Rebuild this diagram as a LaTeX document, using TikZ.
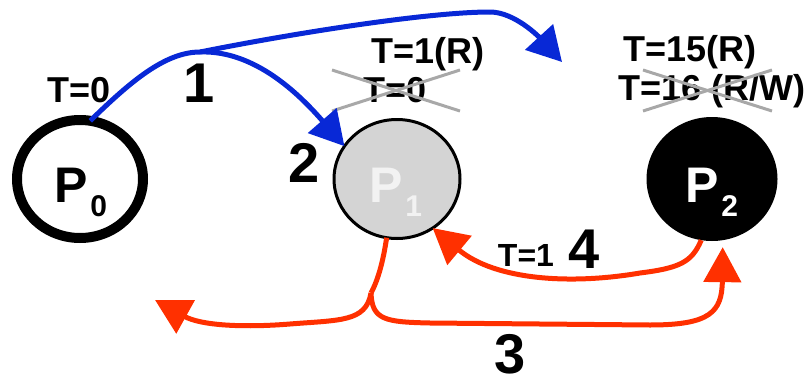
\documentclass[tikz,border=0pt]{standalone}
\usepackage{fontspec}
\setmainfont{Liberation Sans}
\usetikzlibrary{shapes.geometric,arrows.meta}
\definecolor{ablue}{RGB}{8,40,214}
\definecolor{ared}{RGB}{255,48,0}
\definecolor{xgray}{RGB}{168,168,168}
\definecolor{pgray}{RGB}{212,212,212}
\definecolor{plight}{RGB}{242,242,242}
\tikzset{
  proc/.style={ellipse, inner sep=0pt, outer sep=0pt},
  ptext/.style={inner sep=0pt, font=\fontsize{50}{50}\selectfont\bfseries},
  tlabel/.style={inner sep=0pt, font=\fontsize{36}{36}\selectfont\bfseries},
  numlabel/.style={inner sep=0pt, font=\fontsize{56}{56}\selectfont\bfseries},
  bluearrow/.style={draw=ablue, line width=5pt, -{Triangle[length=34pt,width=37pt]}, color=ablue},
  redarrow/.style={draw=ared, line width=5pt, -{Triangle[length=35pt,width=37pt]}, color=ared},
  redline/.style={draw=ared, line width=5pt},
  bluelinestyle/.style={draw=ablue, line width=5pt},
  cross/.style={draw=xgray, line width=3pt}
}
\newcommand{\psub}[2]{P\hspace{2pt}\raisebox{-14pt}{\fontsize{30}{30}\selectfont #2}}
\begin{document}
\begin{tikzpicture}[x=1pt,y=-1pt]
\useasboundingbox (0,0) rectangle (811,383);
% processes
\node[proc, draw=black, line width=10pt, minimum width=126pt, minimum height=118pt] (P0) at (80,179) {};
\node[proc, draw=black, fill=pgray, line width=3pt, minimum width=126pt, minimum height=119pt] (P1) at (397,179) {};
\node[proc, fill=black, minimum width=131pt, minimum height=124pt] (P2) at (712,179) {};
\node[ptext, text=black] (t0) at (81,192) {\psub{P}{0}};
\node[ptext, text=plight] (t1) at (396,192) {\psub{P}{1}};
\node[ptext, text=white] (t2) at (712,192) {\psub{P}{2}};
% labels
\node[tlabel] (lT0) at (79,90) {T=0};
\node[tlabel] (lT1R) at (428,54) {T=1(R)};
\node[tlabel] (lT0s) at (395,90) {T=0};
\node[tlabel] (lT15) at (690,52) {T=15(R)};
\node[tlabel] (lT16) at (712,91) {T=16 (R/W)};
\node[numlabel] (n1) at (199,83) {1};
\node[numlabel] (n2) at (304,163) {2};
\node[numlabel] (n3) at (510,354) {3};
\node[numlabel] (n4) at (584,249) {4};
\node[inner sep=0pt, font=\fontsize{32}{32}\selectfont\bfseries] (lT1) at (526,255) {T=1};
% crosses
\draw[cross] (332,70) -- (460,111);
\draw[cross] (332,111) -- (460,70);
\draw[cross] (643,70) -- (772,111);
\draw[cross] (643,111) -- (772,70);
% blue arrows
\coordinate (J) at (200,52);
\coordinate (B2) at (562,62);
\draw[bluelinestyle] (P0.80) .. controls (130,82) and (165,52) .. (J);
\draw[bluearrow] (J) .. controls (255,50) and (300,95) .. (P1.148);
\draw[bluelinestyle] (J) .. controls (300,32) and (430,12) .. (490,12);
\coordinate (Bm) at (490,12);
\draw[bluearrow] (Bm) .. controls (515,12) and (540,38) .. (B2);
% red arrows
\coordinate (K) at (371,293);
\coordinate (R3) at (155,300);
\draw[redline] (P1.260) .. controls (383,262) and (378,280) .. (K);
\draw[redarrow] (K) .. controls (366,322) and (340,320) .. (290,324) .. controls (240,328) and (200,325) .. (R3);
\draw[redarrow, shorten >=7pt] (K) .. controls (372,320) and (385,322) .. (430,323) -- (650,325) .. controls (710,325) and (722,312) .. (P2.280);
\draw[redarrow] (P2.260) .. controls (692,262) and (680,268) .. (640,273) .. controls (570,285) and (495,280) .. (P1.306);
\end{tikzpicture}
\end{document}
